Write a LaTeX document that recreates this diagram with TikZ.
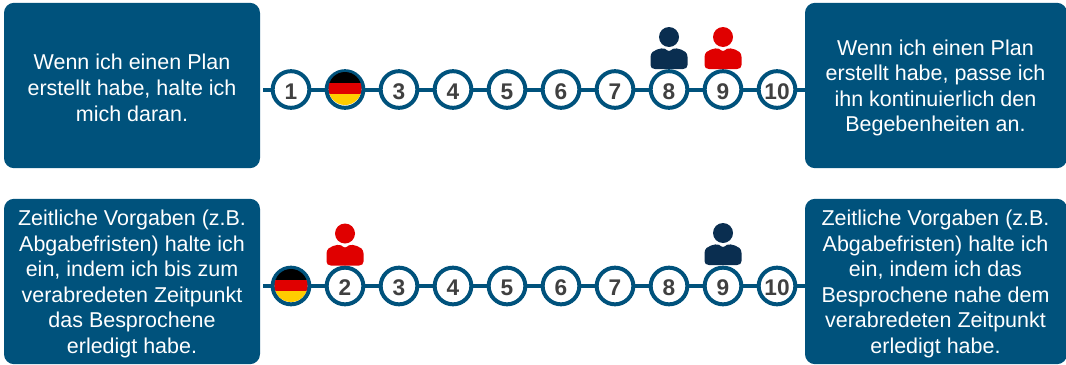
\documentclass[tikz,border=0pt]{standalone}
\usepackage{fontspec}
\setmainfont{Liberation Sans}
\definecolor{boxblue}{HTML}{00527C}
\definecolor{navy}{HTML}{0A2E50}
\definecolor{redp}{HTML}{E00000}
\definecolor{numgrey}{HTML}{404040}
\definecolor{flaggold}{HTML}{FFCC00}
\tikzset{
  textbox/.style={fill=boxblue,rounded corners=7.5pt,inner sep=0pt},
  boxtext/.style={text=white,align=center,anchor=center,inner sep=0pt,
    font=\fontsize{16.1}{19.2}\selectfont},
  numnode/.style={circle,draw=boxblue,line width=3pt,fill=white,minimum size=27.5pt,inner sep=0pt,text=numgrey,
    text height=14.8pt,text depth=0pt,font=\fontsize{17}{17}\selectfont\bfseries},
  chain/.style={draw=boxblue,line width=3pt},
  person/.pic={
    \fill[pic actions] (0,-11) circle[radius=10];
    \fill[pic actions] (-14,21) .. controls (-17,21) and (-18.5,19.5) .. (-18.5,17) -- (-18.5,9)
      .. controls (-18.5,4.5) and (-15,2.5) .. (-12,1.5) .. controls (-9,0.2) and (-6,0.2) .. (-4,0.8)
      .. controls (-2.5,2) and (-1,3) .. (0,3)
      .. controls (1,3) and (2.5,2) .. (4,0.8) .. controls (6,0.2) and (9,0.2) .. (12,1.5)
      .. controls (15,2.5) and (18.5,4.5) .. (18.5,9)
      -- (18.5,17) .. controls (18.5,19.5) and (17,21) .. (14,21) -- cycle;
  }
}
\newcommand{\flagat}[2]{%
  \begin{scope}
    \clip (#1,#2-1) circle[radius=16.5];
    \fill[black] (#1-20,#2-20) rectangle (#1+20,#2-7);
    \fill[redp] (#1-20,#2-7) rectangle (#1+20,#2+4.5);
    \fill[flaggold] (#1-20,#2+4.5) rectangle (#1+20,#2+20);
  \end{scope}
}
\begin{document}
\begin{tikzpicture}[x=0.75pt,y=-0.75pt]
\useasboundingbox (0,0) rectangle (1066,364);
% boxes
\node[textbox,minimum width=192pt,minimum height=124pt] (tl) at (132,85.5) {};
\node[textbox,minimum width=196.5pt,minimum height=124pt] (tr) at (936,85.5) {};
\node[textbox,minimum width=192pt,minimum height=124pt] (bl) at (132,281.5) {};
\node[textbox,minimum width=196.5pt,minimum height=124pt] (br) at (936,281.5) {};
\node[boxtext] (tlt) at ([yshift=-1.8pt]tl.center) {Wenn ich einen Plan\\erstellt habe, halte ich\\mich daran.};
\node[boxtext] (trt) at ([xshift=-0.4pt,yshift=-1.8pt]tr.center) {Wenn ich einen Plan\\erstellt habe, passe ich\\ihn kontinuierlich den\\Begebenheiten an.};
\node[boxtext] (blt) at ([yshift=-1.8pt]bl.center) {Zeitliche Vorgaben (z.B.\\Abgabefristen) halte ich\\ein, indem ich bis zum\\verabredeten Zeitpunkt\\das Besprochene\\erledigt habe.};
\node[boxtext] (brt) at ([xshift=-0.4pt,yshift=-1.8pt]br.center) {Zeitliche Vorgaben (z.B.\\Abgabefristen) halte ich\\ein, indem ich das\\Besprochene nahe dem\\verabredeten Zeitpunkt\\erledigt habe.};
% top row
\coordinate (ts) at (263,89.5);
\coordinate (te) at (805,89.5);
\coordinate (bs) at (263,286);
\coordinate (be) at (805,286);
\node[numnode] (t1) at (291,89.5) {1};
\node[numnode] (t2) at (345,89.5) {};
\node[numnode] (t3) at (399,89.5) {3};
\node[numnode] (t4) at (453,89.5) {4};
\node[numnode] (t5) at (507,89.5) {5};
\node[numnode] (t6) at (561,89.5) {6};
\node[numnode] (t7) at (615,89.5) {7};
\node[numnode] (t8) at (669,89.5) {8};
\node[numnode] (t9) at (723,89.5) {9};
\node[numnode] (t10) at (777,89.5) {10};
\node[numnode] (b1) at (291,286) {};
\node[numnode] (b2) at (345,286) {2};
\node[numnode] (b3) at (399,286) {3};
\node[numnode] (b4) at (453,286) {4};
\node[numnode] (b5) at (507,286) {5};
\node[numnode] (b6) at (561,286) {6};
\node[numnode] (b7) at (615,286) {7};
\node[numnode] (b8) at (669,286) {8};
\node[numnode] (b9) at (723,286) {9};
\node[numnode] (b10) at (777,286) {10};
\draw[chain] (ts) -- (t1) (t1) -- (t2) (t2) -- (t3) (t3) -- (t4) (t4) -- (t5) (t5) -- (t6) (t6) -- (t7) (t7) -- (t8) (t8) -- (t9) (t9) -- (t10) (t10) -- (te);
\draw[chain] (bs) -- (b1) (b1) -- (b2) (b2) -- (b3) (b3) -- (b4) (b4) -- (b5) (b5) -- (b6) (b6) -- (b7) (b7) -- (b8) (b8) -- (b9) (b9) -- (b10) (b10) -- (be);
\flagat{345}{89.5}
\flagat{291}{286.5}
\pic[fill=navy] at (669,48) {person};
\pic[fill=redp] at (723,48) {person};
\pic[fill=redp] at (345,244.5) {person};
\pic[fill=navy] at (723,244) {person};
\end{tikzpicture}
\end{document}
